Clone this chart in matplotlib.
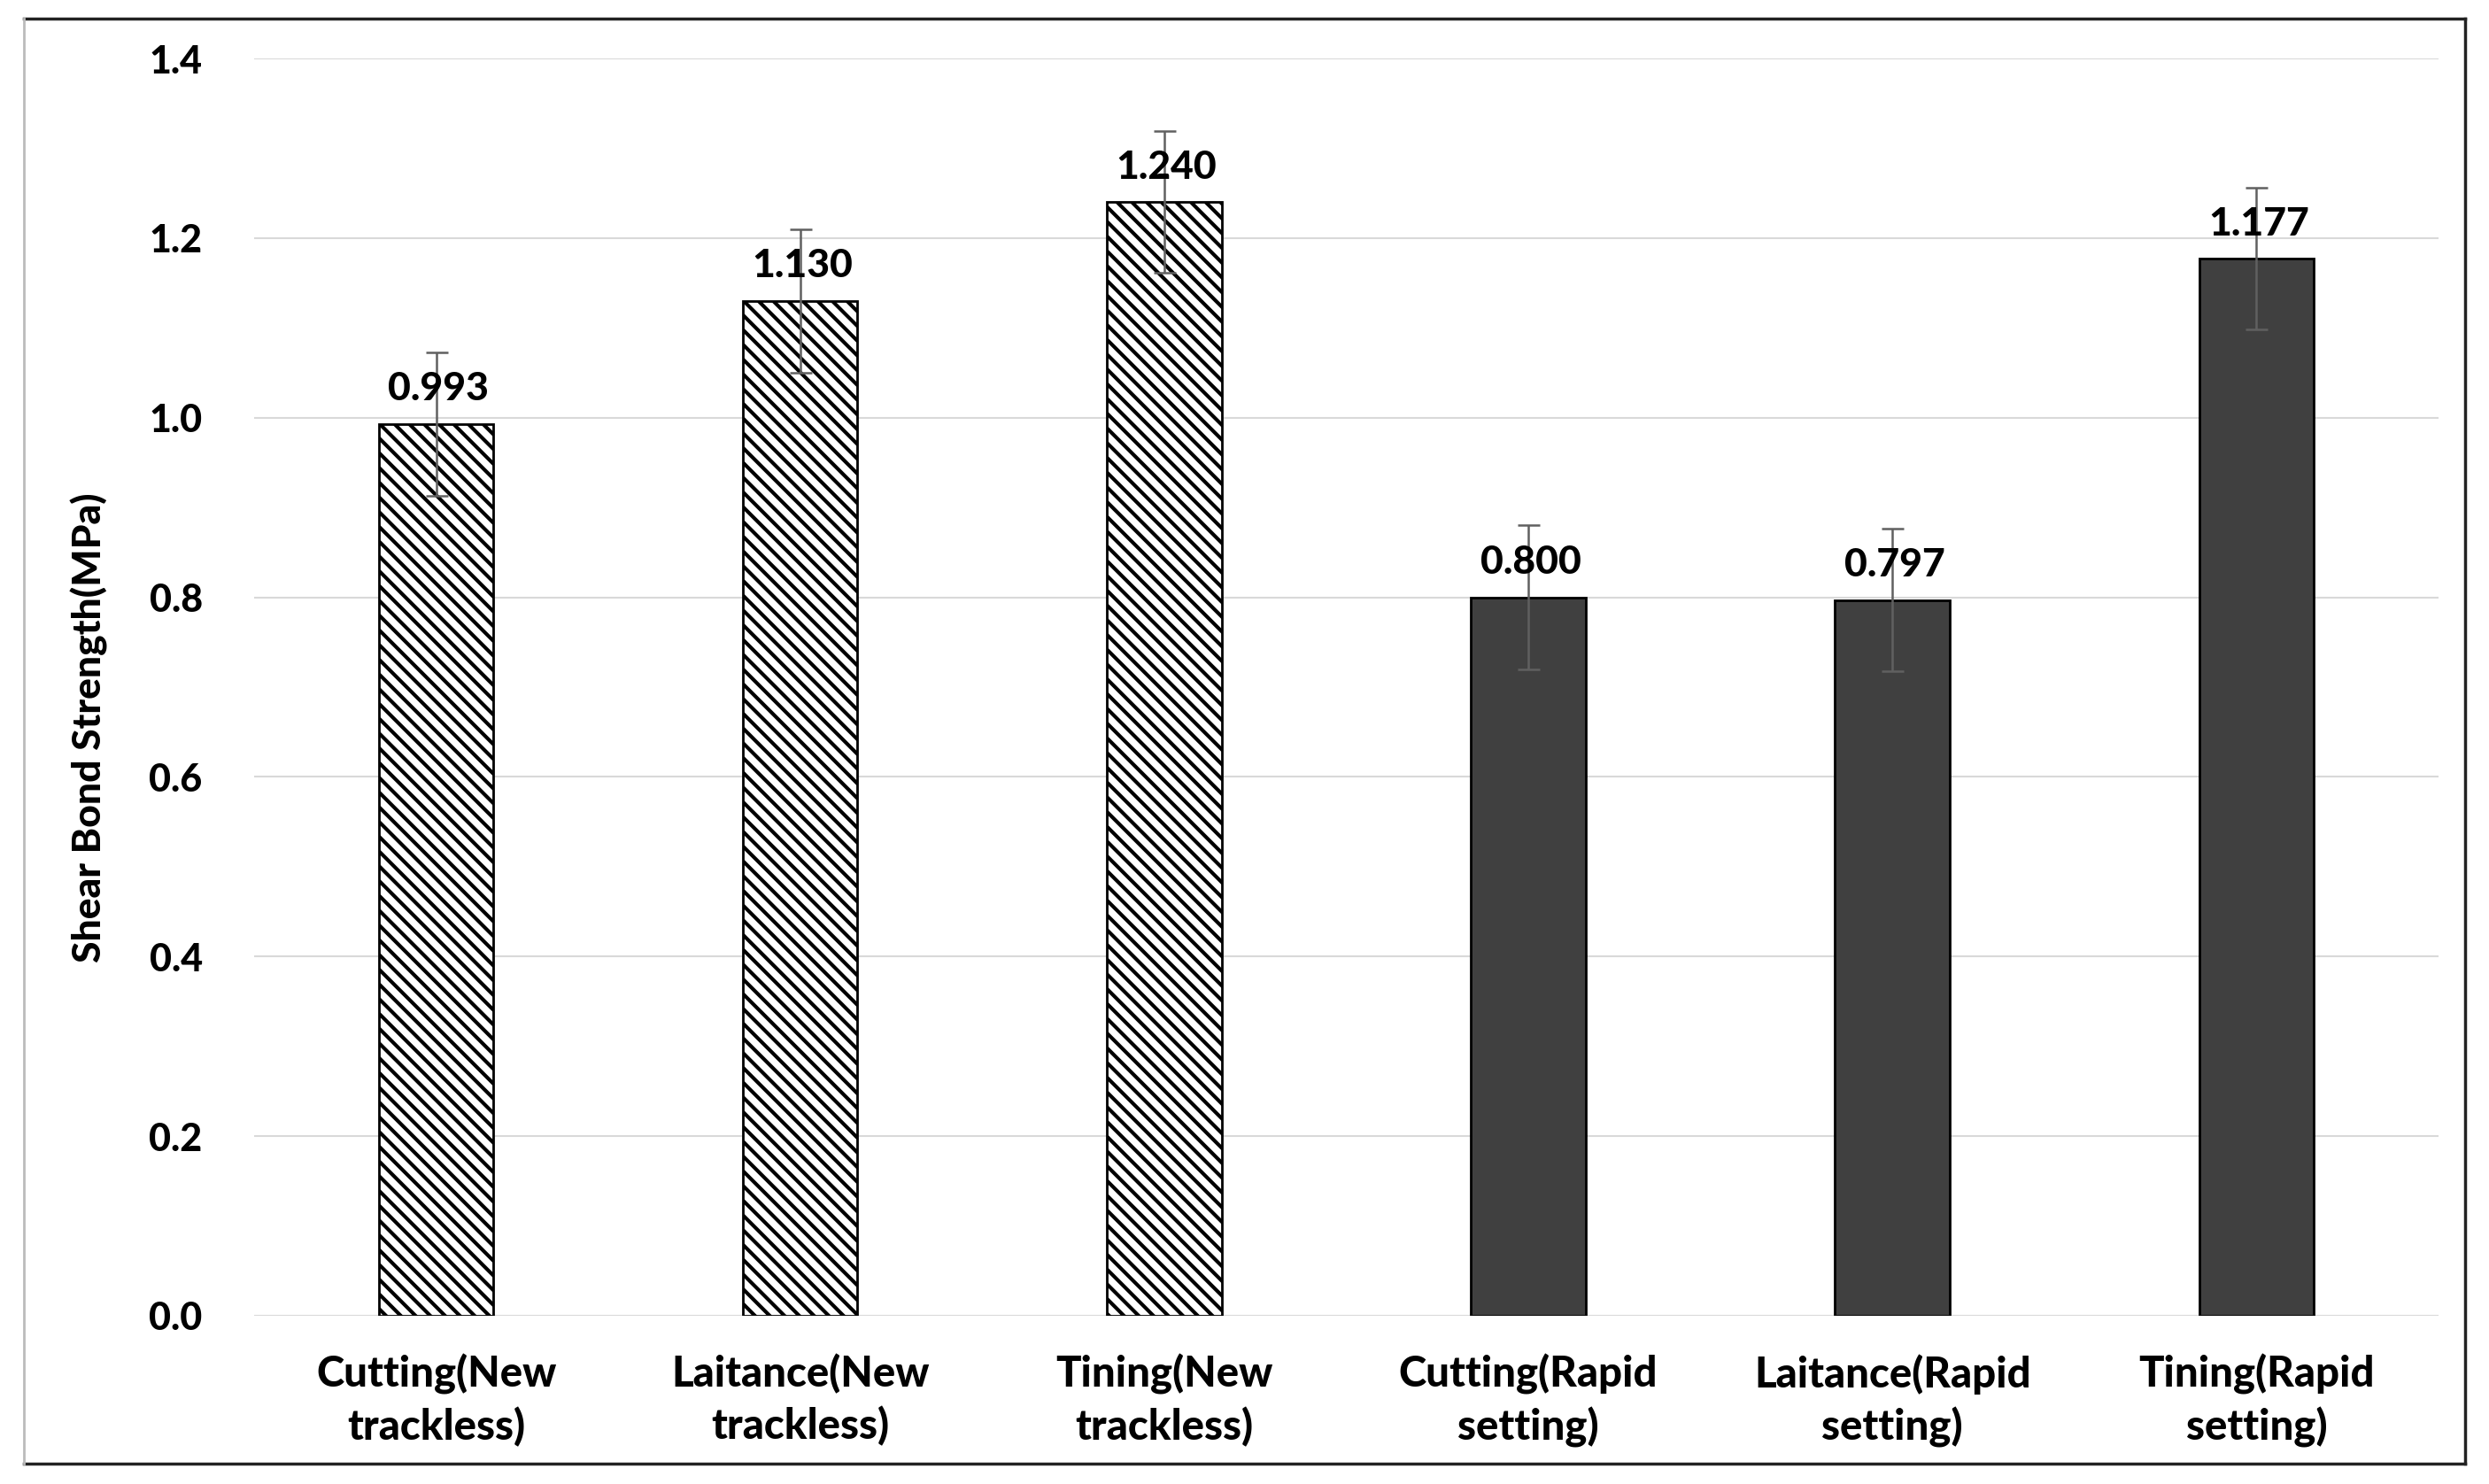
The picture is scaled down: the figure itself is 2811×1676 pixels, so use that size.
import matplotlib
matplotlib.use("Agg")
import matplotlib.pyplot as plt
from matplotlib.lines import Line2D
import numpy as np

categories = ["Cutting(New\ntrackless)", "Laitance(New\ntrackless)", "Tining(New\ntrackless)",
              "Cutting(Rapid\nsetting)", "Laitance(Rapid\nsetting)", "Tining(Rapid\nsetting)"]
values = [0.993, 1.130, 1.240, 0.800, 0.797, 1.177]
errors = [0.080, 0.080, 0.079, 0.080, 0.079, 0.079]
labels = ["0.993", "1.130", "1.240", "0.800", "0.797", "1.177"]
yticks = [0.0, 0.2, 0.4, 0.6, 0.8, 1.0, 1.2, 1.4]
ytick_labels = ["0.0", "0.2", "0.4", "0.6", "0.8", "1.0", "1.2", "1.4"]
W = 'black'

plt.rcParams['font.family'] = ['Lato', 'DejaVu Sans']
plt.rcParams['hatch.linewidth'] = 3.0
plt.rcParams['hatch.color'] = 'black'

fig = plt.figure(figsize=(28.11, 16.76), dpi=100)
ax = fig.add_axes([0.1021, 0.1134, 0.9797 - 0.1021, 0.9606 - 0.1134])

x = np.arange(len(categories))
for i in range(len(categories)):
    if i < 3:
        ax.bar(x[i], values[i], width=0.315, color='white', edgecolor='black',
               hatch='\\\\', linewidth=2.0, zorder=3)
    else:
        ax.bar(x[i], values[i], width=0.315, color='#404040', edgecolor='black',
               linewidth=2.0, zorder=3)

ax.errorbar(x, values, yerr=errors, fmt='none', ecolor='#606060', elinewidth=1.8,
            capsize=9, capthick=1.8, zorder=5)

for i in range(len(categories)):
    ax.annotate(labels[i], (x[i], values[i]), xytext=(2, 14), textcoords='offset points',
                ha='center', va='bottom', fontsize=32, fontweight=W, color='black', zorder=6)

ax.set_xlim(-0.5, 5.5)
ax.set_ylim(0, 1.4)
ax.set_yticks(yticks)
ax.set_yticklabels(ytick_labels)
ax.set_xticks(x)
ax.set_xticklabels(categories, linespacing=1.37)
ax.yaxis.grid(True, color='#d9d9d9', linewidth=1.5, zorder=0)
ax.set_axisbelow(True)
for s in ax.spines.values():
    s.set_visible(False)
ax.tick_params(axis='y', length=0, pad=42, labelsize=31)
ax.tick_params(axis='x', length=0, pad=31, labelsize=34)
for t in ax.get_xticklabels() + ax.get_yticklabels():
    t.set_fontweight(W)

ax.set_ylabel("Shear Bond Strength(MPa)", fontsize=32, fontweight=W)
ax.yaxis.set_label_coords(-0.0669, 0.468)

# outer frame
L, R, B, T = 0.0096, 0.9904, 0.0137, 0.9872
fig.add_artist(Line2D([L, R], [T, T], color='#222222', linewidth=2.5, transform=fig.transFigure))
fig.add_artist(Line2D([R, R], [B, T], color='#222222', linewidth=2.5, transform=fig.transFigure))
fig.add_artist(Line2D([L, R], [B, B], color='#222222', linewidth=2.5, transform=fig.transFigure))
fig.add_artist(Line2D([L, L], [B, T], color='#bbbbbb', linewidth=2.0, transform=fig.transFigure))

fig.savefig("out.png", dpi=100)
